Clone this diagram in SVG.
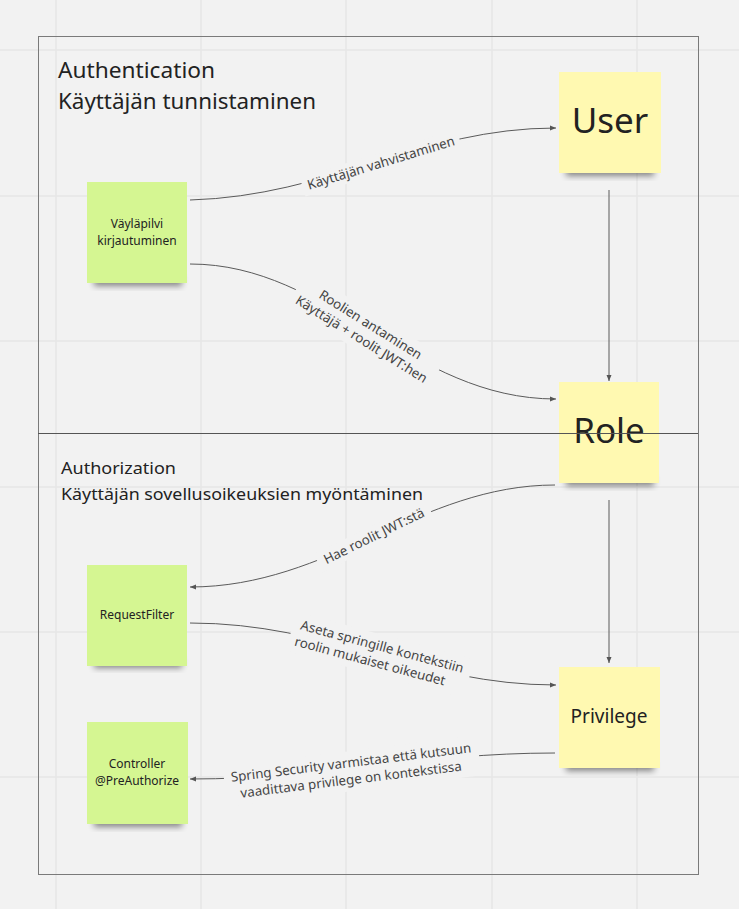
<svg xmlns="http://www.w3.org/2000/svg" width="739" height="909" viewBox="0 0 739 909">
<defs>
<style>
.grid{stroke:#e6e6e6;stroke-width:1.5}
.frame{fill:none;stroke:#7a7a7a;stroke-width:1}
.conn{fill:none;stroke:#5a5a5a;stroke-width:1}
.lbl{font-family:"Noto Sans","Liberation Sans",sans-serif;font-size:13.3px;fill:#444;text-anchor:middle}
.title{font-family:"Noto Sans","Liberation Sans",sans-serif;fill:#222}
.ntxt{font-family:"Noto Sans","Liberation Sans",sans-serif;fill:#222;text-anchor:middle}
.yel{fill:#fff9b1}
.grn{fill:#d5f692}
</style>
<marker id="arr" markerWidth="8" markerHeight="8" refX="6" refY="4" orient="auto" markerUnits="userSpaceOnUse">
<path d="M0,1.5 L6,4 L0,6.5 Z" fill="#555"/>
</marker>
<filter id="sh" x="-20%" y="-50%" width="140%" height="200%">
<feGaussianBlur stdDeviation="3"/>
</filter>
</defs>
<rect width="739" height="909" fill="#f2f2f2"/>
<g id="grid">
<line class="grid" x1="56" y1="0" x2="56" y2="909"/>
<line class="grid" x1="201" y1="0" x2="201" y2="909"/>
<line class="grid" x1="346" y1="0" x2="346" y2="909"/>
<line class="grid" x1="492" y1="0" x2="492" y2="909"/>
<line class="grid" x1="637" y1="0" x2="637" y2="909"/>
<line class="grid" x1="0" y1="50" x2="739" y2="50"/>
<line class="grid" x1="0" y1="196" x2="739" y2="196"/>
<line class="grid" x1="0" y1="341" x2="739" y2="341"/>
<line class="grid" x1="0" y1="487" x2="739" y2="487"/>
<line class="grid" x1="0" y1="632" x2="739" y2="632"/>
<line class="grid" x1="0" y1="777" x2="739" y2="777"/>
</g>
<g id="frame">
<rect class="frame" x="38.5" y="36.5" width="660" height="838"/>
<text class="title" x="58" y="78" font-size="22" textLength="157" lengthAdjust="spacingAndGlyphs">Authentication</text>
<text class="title" x="58" y="109" font-size="22" textLength="258" lengthAdjust="spacingAndGlyphs">Käyttäjän tunnistaminen</text>
<text class="title" x="61" y="474" font-size="17" textLength="115" lengthAdjust="spacingAndGlyphs">Authorization</text>
<text class="title" x="61" y="500" font-size="17" textLength="362" lengthAdjust="spacingAndGlyphs">Käyttäjän sovellusoikeuksien myöntäminen</text>
</g>
<g id="connectors">
<path class="conn" d="M190,200 C330,196 420,128 556,128" marker-end="url(#arr)"/>
<path class="conn" d="M190,264 C330,264 410,399 556,399" marker-end="url(#arr)"/>
<path class="conn" d="M609,190 L609,381" marker-end="url(#arr)"/>
<path class="conn" d="M609,500 L609,663" marker-end="url(#arr)"/>
<path class="conn" d="M555,485 C420,485 330,587 190,587" marker-end="url(#arr)"/>
<path class="conn" d="M190,623 C330,623 420,685 556,685" marker-end="url(#arr)"/>
<path class="conn" d="M555,753 C420,753 330,779 190,779" marker-end="url(#arr)"/>
</g>
<g id="labels">
<g transform="translate(381,163) rotate(-17)">
<rect x="-82" y="-10" width="164" height="20" fill="#f2f2f2"/>
<text class="lbl" x="0" y="4.5">Käyttäjän vahvistaminen</text>
</g>
<g transform="translate(366,332) rotate(32)">
<rect x="-82" y="-20" width="164" height="40" fill="#f2f2f2"/>
<text class="lbl" x="0" y="-4">Roolien antaminen</text>
<text class="lbl" x="0" y="13">Käyttäjä + roolit JWT:hen</text>
</g>
<g transform="translate(374,536) rotate(-26)">
<rect x="-62" y="-10" width="124" height="20" fill="#f2f2f2"/>
<text class="lbl" x="0" y="4.5">Hae roolit JWT:stä</text>
</g>
<g transform="translate(380,655) rotate(15)">
<rect x="-92" y="-20" width="184" height="40" fill="#f2f2f2"/>
<text class="lbl" x="0" y="-4">Aseta springille kontekstiin</text>
<text class="lbl" x="-8" y="13">roolin mukaiset oikeudet</text>
</g>
<g transform="translate(352,771) rotate(-7)">
<rect x="-128" y="-20" width="256" height="40" fill="#f2f2f2"/>
<text class="lbl" x="0" y="-4">Spring Security varmistaa että kutsuun</text>
<text class="lbl" x="-2" y="13">vaadittava privilege on kontekstissa</text>
</g>
</g>
<g id="user">
<rect x="566" y="166" width="88" height="10" fill="#000" opacity="0.45" filter="url(#sh)"/>
<rect class="yel" x="559" y="72" width="102" height="101"/>
<text class="ntxt" x="610" y="133" font-size="35">User</text>
</g>
<g id="role">
<rect x="566" y="476" width="88" height="10" fill="#000" opacity="0.45" filter="url(#sh)"/>
<rect class="yel" x="559" y="382" width="100" height="101"/>
<text class="ntxt" x="609" y="443" font-size="35">Role</text>
</g>
<g id="privilege">
<rect x="566" y="761" width="88" height="10" fill="#000" opacity="0.45" filter="url(#sh)"/>
<rect class="yel" x="559" y="667" width="101" height="101"/>
<text class="ntxt" x="609" y="723" font-size="19">Privilege</text>
</g>
<g id="vaylapilvi">
<rect x="94" y="276" width="88" height="10" fill="#000" opacity="0.45" filter="url(#sh)"/>
<rect class="grn" x="87" y="182" width="100" height="101"/>
<text class="ntxt" x="137" y="228" font-size="12">Väyläpilvi</text>
<text class="ntxt" x="137" y="245" font-size="12">kirjautuminen</text>
</g>
<g id="requestfilter">
<rect x="94" y="658" width="88" height="10" fill="#000" opacity="0.45" filter="url(#sh)"/>
<rect class="grn" x="87" y="565" width="100" height="101"/>
<text class="ntxt" x="137" y="619" font-size="12">RequestFilter</text>
</g>
<g id="controller">
<rect x="94" y="817" width="88" height="10" fill="#000" opacity="0.45" filter="url(#sh)"/>
<rect class="grn" x="87" y="722" width="101" height="102"/>
<text class="ntxt" x="137" y="768" font-size="12">Controller</text>
<text class="ntxt" x="137" y="785" font-size="12">@PreAuthorize</text>
</g>
<line id="divider" x1="38" y1="433.5" x2="698" y2="433.5" stroke="#555" stroke-width="1"/>
</svg>
